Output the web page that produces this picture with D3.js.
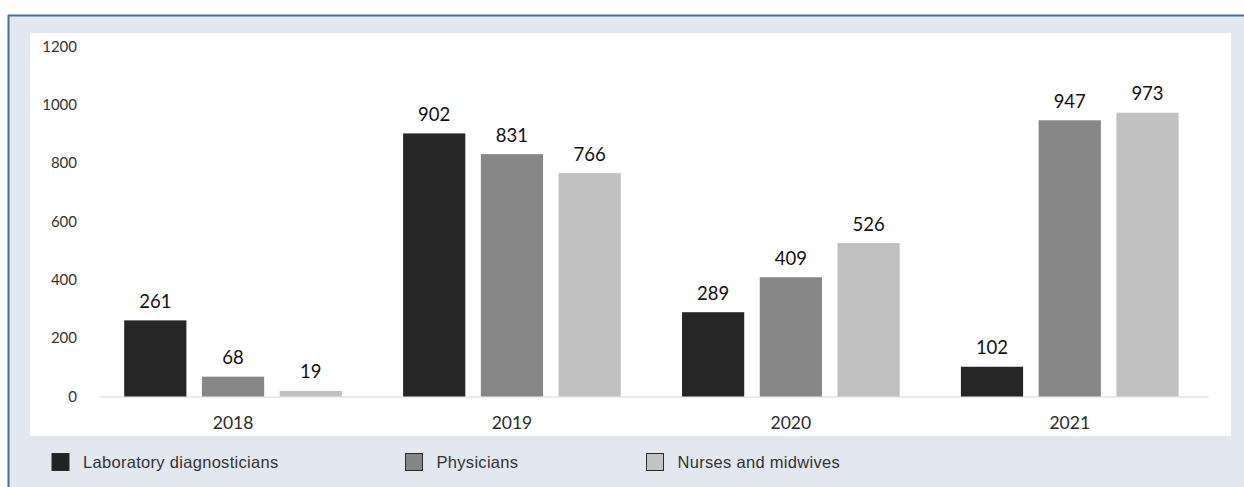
<!DOCTYPE html>
<html>
<head>
<meta charset="utf-8">
<script src="https://cdn.jsdelivr.net/npm/d3@7"></script>
<style>
  html, body { margin: 0; padding: 0; background: #ffffff; }
  svg { display: block; }
</style>
</head>
<body>
<svg id="chart" width="1244" height="487"></svg>
<script>
// Staff counts by profession and year
const years = ["2018", "2019", "2020", "2021"];
const seriesNames = ["Laboratory diagnosticians", "Physicians", "Nurses and midwives"];
const labDiagnosticians = [261, 902, 289, 102];
const physicians = [68, 831, 409, 947];
const nursesMidwives = [19, 766, 526, 973];
const yTicks = [0, 200, 400, 600, 800, 1000, 1200];

const seriesValues = [labDiagnosticians, physicians, nursesMidwives];
const fills = ["#262626", "#878787", "#c1c1c1"];
const legendFills = ["#222222", "#858585", "#c3c3c3"];

const svg = d3.select("#chart");

// Frame: pale background with a blue rule along the top and left edges
svg.append("rect").attr("x", 0).attr("y", 0).attr("width", 1244).attr("height", 487).attr("fill", "#ffffff");
svg.append("rect").attr("x", 8).attr("y", 15).attr("width", 1236).attr("height", 472).attr("fill", "#e3e7ef");
svg.append("line").attr("x1", 8).attr("x2", 1244).attr("y1", 15.5).attr("y2", 15.5)
  .attr("stroke", "#4174a6").attr("stroke-width", 2);
svg.append("line").attr("x1", 8.5).attr("x2", 8.5).attr("y1", 15).attr("y2", 487)
  .attr("stroke", "#4174a6").attr("stroke-width", 2);

// White plot panel
svg.append("rect").attr("x", 30).attr("y", 33).attr("width", 1201).attr("height", 403).attr("fill", "#ffffff");

const y = d3.scaleLinear().domain([0, 1200]).range([396.5, 46.5]);
const x = d3.scaleBand().domain(years).range([93.6, 1209.2]).padding(0);
const inner = d3.scaleBand().domain(d3.range(seriesNames.length))
  .range([30.6, x.bandwidth() - 30.6]).paddingInner(0.2).paddingOuter(0);

// Baseline
svg.append("line")
  .attr("x1", x.range()[0] + 6).attr("x2", x.range()[1])
  .attr("y1", y(0) + 0.5).attr("y2", y(0) + 0.5)
  .attr("stroke", "#d9d9d9").attr("stroke-width", 1.2);

// Y axis labels
const yAxis = d3.axisLeft(y).tickValues(yTicks).tickFormat(d3.format("d")).tickSize(0).tickPadding(0);
const gy = svg.append("g").attr("transform", "translate(77,0)").call(yAxis);
gy.select(".domain").remove();
gy.selectAll("text")
  .attr("font-family", "Lato, 'Open Sans', sans-serif")
  .attr("font-size", 15).attr("fill", "#333333");

// X axis labels
const xAxis = d3.axisBottom(x).tickSize(0).tickPadding(0);
const gx = svg.append("g").attr("transform", `translate(0,${y(0)})`).call(xAxis);
gx.select(".domain").remove();
gx.selectAll("text")
  .attr("dy", null)
  .attr("y", 32)
  .attr("font-family", "Lato, 'Open Sans', sans-serif")
  .attr("font-size", 17.5).attr("fill", "#2a2a2a");

// Bars and value labels
const groups = svg.append("g").selectAll("g")
  .data(years)
  .join("g")
  .attr("transform", d => `translate(${x(d)},0)`);

groups.each(function (year, yi) {
  const g = d3.select(this);
  seriesValues.forEach((vals, si) => {
    const v = vals[yi];
    g.append("rect")
      .attr("x", inner(si))
      .attr("width", inner.bandwidth())
      .attr("y", y(v))
      .attr("height", y(0) - y(v))
      .attr("fill", fills[si]);
    g.append("text")
      .attr("x", inner(si) + inner.bandwidth() / 2)
      .attr("y", y(v) - 12.5)
      .attr("text-anchor", "middle")
      .attr("font-family", "Lato, 'Open Sans', sans-serif")
      .attr("font-size", 18.5)
      .attr("fill", "#111111")
      .text(v);
  });
});

// Legend
const legendX = [52, 405.5, 646.5];
const legend = svg.append("g").selectAll("g")
  .data(seriesNames)
  .join("g")
  .attr("transform", (d, i) => `translate(${legendX[i]},453.5)`);
legend.append("rect")
  .attr("width", 17).attr("height", 17)
  .attr("fill", (d, i) => legendFills[i])
  .attr("stroke", "#2b2b2b").attr("stroke-width", 1);
legend.append("text")
  .attr("x", 31).attr("y", 14.5)
  .attr("font-family", "'Liberation Sans', Arial, sans-serif")
  .attr("font-size", 16.5).attr("letter-spacing", 0.3).attr("fill", "#333333")
  .text(d => d);
</script>
</body>
</html>
